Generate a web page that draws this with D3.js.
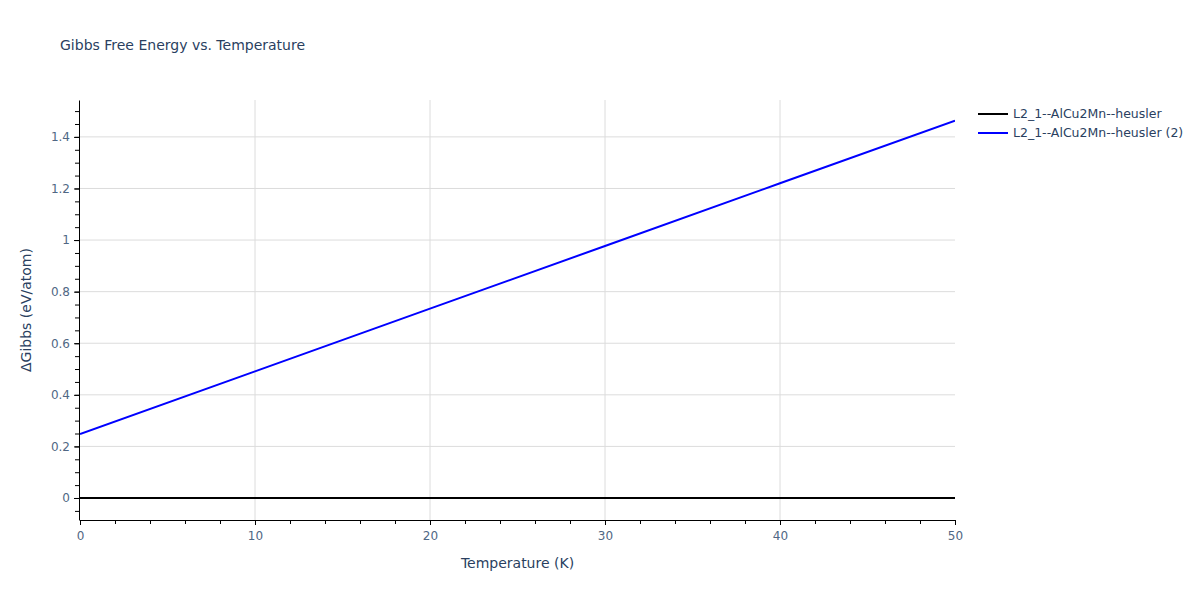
<!DOCTYPE html>
<html>
<head>
<meta charset="utf-8">
<script src="https://cdn.jsdelivr.net/npm/d3@7"></script>
<style>
  body { margin: 0; background: #fff; }
  text { font-family: "DejaVu Sans", verdana, arial, sans-serif; fill: #2a3f5f; }
</style>
</head>
<body>
<div id="chart"></div>
<script>
// data
const temperature = [0, 10, 20, 30, 40, 50];
const seriesNames = ['L2_1--AlCu2Mn--heusler', 'L2_1--AlCu2Mn--heusler (2)'];
const seriesColors = ['#000000', '#0000ff'];
const gibbsRef = [0, 0, 0, 0, 0, 0];
const gibbsSecond = [0.248, 0.491, 0.734, 0.977, 1.220, 1.463];
const xTicks = [0, 10, 20, 30, 40, 50];
const yTicks = [0, 0.2, 0.4, 0.6, 0.8, 1, 1.2, 1.4];

const W = 1200, H = 600;
const margin = { left: 80, right: 245, top: 100, bottom: 80 };

const svg = d3.select('#chart').append('svg')
  .attr('width', W)
  .attr('height', H);

const x = d3.scaleLinear().domain([0, 50]).range([margin.left, W - margin.right]);
const y = d3.scaleLinear().domain([-0.0853, 1.543]).range([H - margin.bottom, margin.top]);

// grid
const grid = svg.append('g').attr('class', 'grid');
grid.selectAll('.vgrid')
  .data(xTicks.filter(d => d > 0 && d < 50))
  .enter().append('line')
  .attr('x1', d => x(d)).attr('x2', d => x(d))
  .attr('y1', y.range()[1]).attr('y2', y.range()[0])
  .style('stroke', '#dcdcdc').style('stroke-width', 1);
grid.selectAll('.hgrid')
  .data(yTicks)
  .enter().append('line')
  .attr('x1', x.range()[0]).attr('x2', x.range()[1])
  .attr('y1', d => y(d)).attr('y2', d => y(d))
  .style('stroke', '#dcdcdc').style('stroke-width', 1);

// minor ticks
const xMinor = d3.range(0, 50.001, 2);
const yMinor = d3.range(-0.05, 1.5001, 0.05);

const xAxisG = svg.append('g')
  .attr('transform', `translate(0,${H - margin.bottom})`);
xAxisG.append('g')
  .call(d3.axisBottom(x).tickValues(xMinor).tickSize(4).tickFormat(''))
  .call(g => g.select('.domain').remove());
xAxisG.append('g')
  .call(d3.axisBottom(x).tickValues(xTicks).tickSize(5).tickSizeOuter(0).tickPadding(6))
  .call(g => g.selectAll('text').style('font-size', '12px').style('fill', '#506784').style('font-family', null));

const yAxisG = svg.append('g')
  .attr('transform', `translate(${margin.left - 1},0)`);
yAxisG.append('g')
  .call(d3.axisLeft(y).tickValues(yMinor).tickSize(4).tickFormat(''))
  .call(g => g.select('.domain').remove());
yAxisG.append('g')
  .call(d3.axisLeft(y).tickValues(yTicks).tickSize(5).tickSizeOuter(0).tickPadding(4).tickFormat(d3.format('~g')))
  .call(g => g.selectAll('text').style('font-size', '12px').style('fill', '#506784').style('font-family', null));

svg.selectAll('.tick line').style('stroke', '#000');
svg.selectAll('.domain').style('stroke', '#000');

// lines
const line = d3.line()
  .x(d => x(d[0]))
  .y(d => y(d[1]));
const series = [gibbsRef, gibbsSecond];
svg.append('clipPath').attr('id', 'plotclip')
  .append('rect')
  .attr('x', margin.left).attr('y', margin.top)
  .attr('width', W - margin.left - margin.right)
  .attr('height', H - margin.top - margin.bottom);
svg.append('g').attr('clip-path', 'url(#plotclip)')
  .selectAll('path')
  .data(series)
  .enter().append('path')
  .attr('d', s => line(temperature.map((t, i) => [t, s[i]])))
  .style('fill', 'none')
  .style('stroke', (s, i) => seriesColors[i])
  .style('stroke-width', 2);

// title + axis titles
svg.append('text')
  .attr('x', 60).attr('y', 50)
  .style('font-size', '14px')
  .text('Gibbs Free Energy vs. Temperature');
svg.append('text')
  .attr('x', (x.range()[0] + x.range()[1]) / 2).attr('y', 568)
  .attr('text-anchor', 'middle')
  .style('font-size', '14px')
  .text('Temperature (K)');
svg.append('text')
  .attr('transform', `translate(31,${(y.range()[0] + y.range()[1]) / 2}) rotate(-90)`)
  .attr('text-anchor', 'middle')
  .style('font-size', '14px')
  .text('ΔGibbs (eV/atom)');

// legend
const legend = svg.append('g').attr('transform', 'translate(978,114)');
const item = legend.selectAll('g')
  .data(seriesNames)
  .enter().append('g')
  .attr('transform', (d, i) => `translate(0,${i * 19})`);
item.append('line')
  .attr('x1', 0).attr('x2', 30)
  .style('stroke', (d, i) => seriesColors[i])
  .style('stroke-width', 2);
item.append('text')
  .attr('x', 35).attr('y', 4)
  .style('font-size', '12.5px')
  .text(d => d);
</script>
</body>
</html>
